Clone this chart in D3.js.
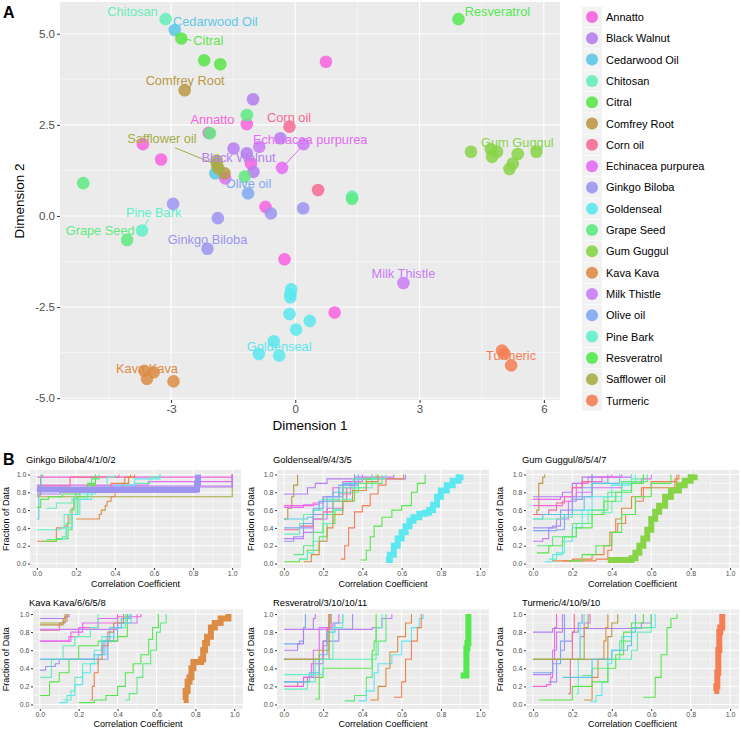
<!DOCTYPE html>
<html><head><meta charset="utf-8">
<script src="https://cdn.jsdelivr.net/npm/d3@7"></script>
<style>body{margin:0;background:#fff} text{font-family:"Liberation Sans",Arial,Helvetica,sans-serif}</style>
</head><body><svg id="c" width="741" height="730"></svg>
<script>
// ---------- shared categories ----------
const herbs = ["Annatto","Black Walnut","Cedarwood Oil","Chitosan","Citral","Comfrey Root","Corn oil","Echinacea purpurea","Ginkgo Biloba","Goldenseal","Grape Seed","Gum Guggul","Kava Kava","Milk Thistle","Olive oil","Pine Bark","Resveratrol","Safflower oil","Turmeric"];
const herbColors = ["#F863DF","#B57EF0","#5CC8E6","#66EDB8","#5BE548","#BA9845","#F66A93","#E46CF5","#9B94F0","#5BE8EE","#5EEA80","#88D448","#DD8C45","#C97CF7","#7FA8F2","#62F0CC","#55E84F","#A8AC45","#F47F55"];

// ---------- panel A: MDS points ----------
const mdsHerb = ["Annatto","Annatto","Annatto","Annatto","Annatto","Annatto","Annatto","Annatto","Annatto",
 "Echinacea purpurea","Echinacea purpurea","Corn oil","Corn oil",
 "Black Walnut","Black Walnut","Black Walnut","Black Walnut","Black Walnut",
 "Ginkgo Biloba","Ginkgo Biloba","Ginkgo Biloba","Ginkgo Biloba","Ginkgo Biloba",
 "Milk Thistle","Milk Thistle","Milk Thistle",
 "Cedarwood Oil","Cedarwood Oil","Chitosan","Chitosan",
 "Citral","Citral","Citral","Comfrey Root","Comfrey Root",
 "Grape Seed","Grape Seed","Grape Seed","Grape Seed","Grape Seed","Grape Seed",
 "Gum Guggul","Gum Guggul","Gum Guggul","Gum Guggul","Gum Guggul","Gum Guggul","Gum Guggul","Gum Guggul",
 "Kava Kava","Kava Kava","Kava Kava","Kava Kava",
 "Olive oil","Pine Bark","Resveratrol","Safflower oil","Safflower oil","Safflower oil",
 "Turmeric","Turmeric","Turmeric",
 "Goldenseal","Goldenseal","Goldenseal","Goldenseal","Goldenseal","Goldenseal","Goldenseal","Goldenseal","Goldenseal"];
const mdsX = [0.74,-1.17,-2.09,-3.68,-3.24,-1.07,-0.72,-0.26,0.95,
 -0.32,-1.69,-0.14,0.55,
 -1.02,-1.49,-1.17,-1.01,-0.36,
 -2.95,-1.87,-2.12,0.19,-0.59,
 2.61,-0.87,0.20,
 -2.91,-1.93,-3.13,1.37,
 -2.75,-2.20,-1.81,-2.67,-1.71,
 -4.06,-5.12,-1.17,-1.22,1.37,-2.06,
 4.24,4.72,4.87,4.75,5.37,5.25,5.17,5.82,
 -3.64,-3.42,-3.58,-2.94,
 -1.14,-3.70,3.94,-1.89,-1.90,-1.86,
 4.99,5.05,5.21,
 -0.10,-0.12,-0.12,-0.14,0.35,0.02,-0.52,-0.88,-0.39];
const mdsY = [4.23,2.52,2.28,1.97,1.55,1.44,0.25,-1.19,-2.65,
 1.32,1.03,2.45,0.71,
 3.20,1.85,1.72,1.21,2.13,
 0.33,-0.06,-0.90,0.21,0.07,
 -1.84,1.90,1.97,
 5.10,1.17,5.40,0.53,
 4.87,4.27,4.16,3.45,1.17,
 -0.66,0.90,2.77,1.08,0.47,2.27,
 1.76,1.83,1.76,1.62,1.70,1.44,1.29,1.76,
 -4.25,-4.29,-4.47,-4.54,
 0.62,-0.40,5.40,1.40,1.52,1.30,
 -3.69,-3.78,-4.10,
 -2.01,-2.15,-2.23,-2.69,-2.88,-3.12,-3.44,-3.79,-3.83];
// label positions (data units), one per herb, same order as herbs
const labelX = [-2.00,-1.37,-1.93,-3.93,-2.10,-2.66,-0.15,0.36,-2.12,-0.39,-4.71,5.36,-3.58,2.61,-1.13,-3.42,4.88,-3.22,5.21];
const labelY = [2.63,1.61,5.34,5.62,4.82,3.70,2.69,2.10,-0.64,-3.58,-0.40,2.00,-4.20,-1.57,0.90,0.10,5.62,2.13,-3.84];
// repel segments
const segHerb = ["Citral","Safflower oil","Echinacea purpurea","Pine Bark"];
const segX1 = [-2.75,-2.90,-0.32,-3.54];
const segY1 = [4.87,1.87,1.32,-0.09];
const segX2 = [-2.51,-1.89,0.18,-3.70];
const segY2 = [4.82,1.40,1.93,-0.38];
const xTicksA = [-3,0,3,6];
const yTicksA = [-5,-2.5,0,2.5,5];

// ---------- panel B: ECDF step curves [x, F(x)] ----------
const ecdfGinkgo = [
 {h:"Annatto",p:[[0,0.97],[1.0,1.0]]},
 {h:"Echinacea purpurea",p:[[0,0.88],[0.57,0.92],[1.0,1.0]]},
 {h:"Safflower oil",p:[[0,0.75],[1.0,1.0]]},
 {h:"Milk Thistle",p:[[0.28,0.87],[1.0,1.0]]},
 {h:"Corn oil",p:[[0,0.87],[0.17,0.97],[0.42,1.0]]},
 {h:"Comfrey Root",p:[[0,0.77],[0.02,0.98],[0.03,1.0]]},
 {h:"Cedarwood Oil",p:[[0,0.5],[0.01,0.87],[0.02,1.0]]},
 {h:"Turmeric",p:[[0,0.25],[0.1,0.4],[0.14,0.42],[0.16,0.55],[0.18,0.62],[0.19,0.72],[0.2,0.78],[0.22,0.85],[0.38,0.9],[0.45,0.97],[0.48,1.0]]},
 {h:"Kava Kava",p:[[0.2,0.5],[0.32,0.55],[0.33,0.6],[0.35,0.65],[0.36,0.7],[0.38,0.75],[0.4,0.85],[0.44,0.9],[0.47,0.97],[0.5,1.0]]},
 {h:"Grape Seed",p:[[0.05,0.27],[0.13,0.3],[0.15,0.45],[0.17,0.6],[0.19,0.75],[0.22,0.85],[0.28,0.95],[0.32,1.0]]},
 {h:"Citral",p:[[0.03,0.25],[0.1,0.28],[0.16,0.38],[0.18,0.55],[0.21,0.75],[0.26,0.88],[0.3,1.0]]},
 {h:"Resveratrol",p:[[0,0.63],[0.02,0.72],[0.06,0.75],[0.13,0.78],[0.2,0.84],[0.26,0.9],[0.3,1.0]]},
 {h:"Chitosan",p:[[0.05,0.62],[0.1,0.68],[0.18,0.72],[0.28,0.8],[0.42,0.83],[0.5,0.9],[0.58,0.97],[0.63,1.0]]},
 {h:"Pine Bark",p:[[0,0.38],[0.12,0.4],[0.14,0.55],[0.2,0.78],[0.3,0.85],[0.36,0.97],[0.4,1.0]]},
 {h:"Goldenseal",p:[[0.12,0.28],[0.15,0.4],[0.18,0.55],[0.22,0.72],[0.26,0.8],[0.4,0.88],[0.5,0.95],[0.63,1.0]]},
 {h:"Black Walnut",p:[[0,0.78],[0.12,0.8],[0.82,0.86],[1.0,1.0]]},
 {h:"Ginkgo Biloba",p:[[0,0.83],[0.82,0.9],[0.825,1.0]]}
];
const ecdfGoldenseal = [
 {h:"Comfrey Root",p:[[0,0.5],[0.02,0.62],[0.04,0.75],[0.05,0.88],[0.07,1.0]]},
 {h:"Black Walnut",p:[[0,0.78],[0.12,0.85],[0.16,0.9],[0.22,0.95],[0.36,1.0]]},
 {h:"Annatto",p:[[0,0.65],[0.15,0.68],[0.2,0.75],[0.25,0.85],[0.3,0.92],[0.4,1.0]]},
 {h:"Echinacea purpurea",p:[[0,0.63],[0.1,0.66],[0.18,0.7],[0.28,0.78],[0.34,0.9],[0.38,1.0]]},
 {h:"Corn oil",p:[[0,0.38],[0.08,0.42],[0.15,0.5],[0.2,0.58],[0.25,0.7],[0.32,0.85],[0.36,0.95],[0.45,1.0]]},
 {h:"Ginkgo Biloba",p:[[0,0.25],[0.05,0.3],[0.1,0.4],[0.15,0.55],[0.22,0.75],[0.3,0.88],[0.38,0.95],[0.62,1.0]]},
 {h:"Milk Thistle",p:[[0,0.28],[0.1,0.35],[0.15,0.5],[0.22,0.62],[0.3,0.85],[0.36,0.97],[0.56,1.0]]},
 {h:"Cedarwood Oil",p:[[0,0.5],[0.12,0.52],[0.15,0.6],[0.18,0.7],[0.25,0.8],[0.3,0.9],[0.38,1.0]]},
 {h:"Chitosan",p:[[0,0.33],[0.08,0.45],[0.1,0.55],[0.15,0.6],[0.2,0.72],[0.28,0.85],[0.35,0.95],[0.45,1.0]]},
 {h:"Citral",p:[[0,0.02],[0.08,0.05],[0.12,0.15],[0.18,0.3],[0.22,0.45],[0.26,0.6],[0.3,0.7],[0.36,0.85],[0.42,0.95],[0.47,1.0]]},
 {h:"Pine Bark",p:[[0.08,0.05],[0.12,0.12],[0.15,0.25],[0.2,0.45],[0.25,0.6],[0.3,0.72],[0.35,0.85],[0.45,0.95],[0.52,1.0]]},
 {h:"Kava Kava",p:[[0.1,0.02],[0.14,0.1],[0.18,0.25],[0.22,0.4],[0.25,0.55],[0.3,0.7],[0.35,0.82],[0.42,0.92],[0.48,1.0]]},
 {h:"Turmeric",p:[[0.29,0.05],[0.31,0.2],[0.33,0.4],[0.36,0.58],[0.4,0.65],[0.44,0.78],[0.48,0.88],[0.52,0.95],[0.61,1.0]]},
 {h:"Resveratrol",p:[[0.39,0.04],[0.42,0.15],[0.44,0.3],[0.46,0.42],[0.5,0.52],[0.55,0.6],[0.6,0.65],[0.65,0.8],[0.68,0.9],[0.72,1.0]]},
 {h:"Grape Seed",p:[[0.05,0.1],[0.1,0.2],[0.15,0.35],[0.2,0.55],[0.25,0.7],[0.3,0.8],[0.38,0.9],[0.5,1.0]]},
 {h:"Olive oil",p:[[0,0.4],[0.1,0.45],[0.15,0.62],[0.2,0.75],[0.28,0.88],[0.36,1.0]]},
 {h:"Goldenseal",p:[[0.52,0.04],[0.54,0.1],[0.56,0.2],[0.58,0.28],[0.6,0.35],[0.62,0.42],[0.64,0.48],[0.66,0.52],[0.69,0.56],[0.72,0.57],[0.74,0.6],[0.76,0.66],[0.78,0.75],[0.8,0.82],[0.83,0.88],[0.86,0.93],[0.89,0.97],[0.9,1.0]]}
];
const ecdfGumGuggul = [
 {h:"Comfrey Root",p:[[0,0.55],[0.02,0.6],[0.03,0.9],[0.05,0.97],[0.06,1.0]]},
 {h:"Black Walnut",p:[[0,0.75],[0.15,0.8],[0.2,0.9],[0.25,0.97],[0.4,1.0]]},
 {h:"Milk Thistle",p:[[0,0.25],[0.05,0.28],[0.08,0.4],[0.12,0.5],[0.18,0.7],[0.22,0.9],[0.28,0.97],[0.5,1.0]]},
 {h:"Annatto",p:[[0,0.65],[0.15,0.7],[0.2,0.85],[0.25,0.92],[0.35,0.97],[0.45,1.0]]},
 {h:"Corn oil",p:[[0,0.55],[0.08,0.6],[0.12,0.68],[0.16,0.75],[0.2,0.85],[0.25,0.92],[0.3,1.0]]},
 {h:"Echinacea purpurea",p:[[0,0.72],[0.14,0.75],[0.22,0.8],[0.3,0.85],[0.45,0.9],[0.55,0.95],[0.6,1.0]]},
 {h:"Ginkgo Biloba",p:[[0,0.4],[0.1,0.42],[0.14,0.6],[0.2,0.75],[0.3,0.9],[0.38,1.0]]},
 {h:"Olive oil",p:[[0,0.37],[0.12,0.38],[0.16,0.55],[0.2,0.72],[0.25,0.85],[0.3,1.0]]},
 {h:"Cedarwood Oil",p:[[0,0.5],[0.05,0.55],[0.2,0.6],[0.26,0.75],[0.3,0.9],[0.44,1.0]]},
 {h:"Goldenseal",p:[[0.06,0.02],[0.1,0.1],[0.15,0.25],[0.2,0.4],[0.25,0.6],[0.3,0.75],[0.4,0.88],[0.5,1.0]]},
 {h:"Pine Bark",p:[[0.08,0.05],[0.12,0.12],[0.16,0.3],[0.22,0.45],[0.28,0.6],[0.36,0.75],[0.45,0.9],[0.52,1.0]]},
 {h:"Chitosan",p:[[0,0.5],[0.15,0.52],[0.2,0.55],[0.35,0.57],[0.4,0.7],[0.45,0.82],[0.5,0.95],[0.56,1.0]]},
 {h:"Kava Kava",p:[[0.1,0.03],[0.2,0.05],[0.3,0.1],[0.36,0.2],[0.39,0.35],[0.42,0.5],[0.45,0.62],[0.5,0.75],[0.55,0.85],[0.72,0.95],[0.74,1.0]]},
 {h:"Turmeric",p:[[0.15,0.03],[0.32,0.05],[0.38,0.15],[0.4,0.35],[0.43,0.45],[0.47,0.55],[0.52,0.7],[0.56,0.85],[0.6,0.92],[0.73,1.0]]},
 {h:"Citral",p:[[0.02,0.12],[0.08,0.2],[0.15,0.3],[0.22,0.4],[0.3,0.55],[0.36,0.7],[0.42,0.8],[0.5,0.9],[0.56,1.0]]},
 {h:"Resveratrol",p:[[0.18,0.03],[0.25,0.1],[0.32,0.2],[0.4,0.35],[0.45,0.55],[0.52,0.75],[0.6,0.9],[0.7,1.0]]},
 {h:"Grape Seed",p:[[0.02,0.2],[0.1,0.3],[0.2,0.45],[0.3,0.6],[0.38,0.8],[0.45,0.92],[0.58,1.0]]},
 {h:"Gum Guggul",p:[[0.38,0.04],[0.5,0.06],[0.52,0.12],[0.54,0.2],[0.56,0.28],[0.58,0.38],[0.6,0.5],[0.62,0.58],[0.64,0.65],[0.67,0.75],[0.7,0.82],[0.74,0.88],[0.77,0.93],[0.8,0.97],[0.82,1.0]]}
];
const ecdfKavaKava = [
 {h:"Ginkgo Biloba",p:[[0,0.38],[0.03,0.42],[0.08,0.45],[0.1,0.5],[0.3,0.55],[0.33,0.7],[0.38,0.85],[0.42,0.95],[0.47,1.0]]},
 {h:"Olive oil",p:[[0,0.5],[0.3,0.5],[0.35,0.7],[0.4,0.9],[0.45,1.0]]},
 {h:"Black Walnut",p:[[0,0.95],[0.13,0.97],[0.15,1.0]]},
 {h:"Corn oil",p:[[0,0.82],[0.1,0.9],[0.13,0.97],[0.14,1.0]]},
 {h:"Comfrey Root",p:[[0,0.88],[0.1,0.88],[0.12,0.95],[0.13,1.0]]},
 {h:"Annatto",p:[[0,0.7],[0.15,0.75],[0.2,0.85],[0.3,0.9],[0.4,0.97],[0.52,1.0]]},
 {h:"Echinacea purpurea",p:[[0,0.7],[0.16,0.8],[0.22,0.9],[0.3,0.95],[0.4,1.0]]},
 {h:"Milk Thistle",p:[[0,0.83],[0.3,0.83],[0.4,0.9],[0.5,1.0]]},
 {h:"Chitosan",p:[[0,0.3],[0.06,0.5],[0.12,0.65],[0.18,0.75],[0.26,0.85],[0.3,1.0]]},
 {h:"Citral",p:[[0,0.1],[0.05,0.25],[0.1,0.35],[0.15,0.5],[0.2,0.65],[0.3,0.7],[0.4,0.75],[0.45,1.0]]},
 {h:"Pine Bark",p:[[0.12,0.05],[0.16,0.15],[0.18,0.3],[0.22,0.45],[0.28,0.6],[0.32,0.75],[0.38,0.85],[0.44,1.0]]},
 {h:"Goldenseal",p:[[0.1,0.02],[0.14,0.1],[0.18,0.22],[0.22,0.35],[0.26,0.45],[0.3,0.55],[0.34,0.75],[0.38,0.9],[0.47,1.0]]},
 {h:"Turmeric",p:[[0.26,0.05],[0.27,0.2],[0.28,0.35],[0.3,0.5],[0.32,0.65],[0.35,0.8],[0.38,0.9],[0.43,1.0]]},
 {h:"Cedarwood Oil",p:[[0,0.5],[0.28,0.55],[0.32,0.7],[0.36,0.85],[0.42,0.95],[0.46,1.0]]},
 {h:"Resveratrol",p:[[0.2,0.02],[0.28,0.05],[0.34,0.1],[0.4,0.2],[0.44,0.35],[0.48,0.45],[0.52,0.55],[0.56,0.72],[0.58,0.85],[0.61,1.0]]},
 {h:"Grape Seed",p:[[0.44,0.05],[0.46,0.12],[0.5,0.3],[0.53,0.45],[0.57,0.6],[0.6,0.8],[0.62,0.9],[0.65,1.0]]},
 {h:"Safflower oil",p:[[0,0.9],[0.12,0.92],[0.14,1.0]]},
 {h:"Kava Kava",p:[[0.74,0.05],[0.75,0.15],[0.76,0.25],[0.77,0.3],[0.78,0.4],[0.79,0.47],[0.83,0.5],[0.84,0.6],[0.85,0.68],[0.86,0.75],[0.88,0.85],[0.9,0.9],[0.93,0.95],[0.97,1.0]]}
];
const ecdfResveratrol = [
 {h:"Olive oil",p:[[0,0.67],[0.08,0.7],[0.1,0.85],[0.11,1.0]]},
 {h:"Black Walnut",p:[[0,0.6],[0.07,0.67],[0.1,0.83],[0.15,0.95],[0.16,1.0]]},
 {h:"Echinacea purpurea",p:[[0,0.5],[0.12,0.5],[0.15,0.6],[0.18,0.85],[0.25,0.9],[0.28,1.0]]},
 {h:"Corn oil",p:[[0,0.2],[0.07,0.25],[0.12,0.3],[0.18,0.5],[0.2,0.7],[0.22,0.85],[0.23,1.0]]},
 {h:"Milk Thistle",p:[[0,0.83],[0.3,0.83],[0.45,0.85],[0.5,0.95],[0.55,1.0]]},
 {h:"Ginkgo Biloba",p:[[0,0.25],[0.1,0.3],[0.15,0.5],[0.2,0.7],[0.28,0.83],[0.35,1.0]]},
 {h:"Comfrey Root",p:[[0,0.5],[0.22,0.5],[0.23,1.0]]},
 {h:"Annatto",p:[[0.01,0.2],[0.1,0.3],[0.14,0.45],[0.2,0.65],[0.22,0.85],[0.24,1.0]]},
 {h:"Chitosan",p:[[0,0.17],[0.12,0.25],[0.16,0.5],[0.45,0.5],[0.47,0.85],[0.5,1.0]]},
 {h:"Cedarwood Oil",p:[[0,0.25],[0.13,0.35],[0.18,0.55],[0.22,0.8],[0.26,0.9],[0.3,1.0]]},
 {h:"Citral",p:[[0.16,0.06],[0.18,0.3],[0.2,0.4],[0.44,0.4],[0.45,0.6],[0.46,0.7],[0.47,1.0]]},
 {h:"Grape Seed",p:[[0.31,0.04],[0.36,0.1],[0.42,0.3],[0.45,0.55],[0.48,0.7],[0.52,1.0]]},
 {h:"Goldenseal",p:[[0.38,0.04],[0.42,0.15],[0.46,0.35],[0.48,0.45],[0.55,0.55],[0.6,0.7],[0.65,0.85],[0.69,0.95],[0.71,1.0]]},
 {h:"Kava Kava",p:[[0.44,0.05],[0.48,0.2],[0.52,0.4],[0.54,0.58],[0.58,0.75],[0.62,0.9],[0.65,1.0]]},
 {h:"Turmeric",p:[[0.56,0.08],[0.6,0.25],[0.62,0.5],[0.65,0.7],[0.68,0.85],[0.7,1.0]]},
 {h:"Pine Bark",p:[[0,0.33],[0.2,0.5],[0.25,0.85],[0.3,1.0]]},
 {h:"Safflower oil",p:[[0,0.5],[0.12,0.5],[0.18,0.6],[0.23,0.9],[0.24,1.0]]},
 {h:"Resveratrol",p:[[0.9,0.32],[0.92,0.32],[0.93,0.62],[0.935,0.68],[0.94,1.0]]}
];
const ecdfTurmeric = [
 {h:"Annatto",p:[[0,0.2],[0.07,0.22],[0.09,0.3],[0.1,0.5],[0.11,0.85],[0.12,1.0]]},
 {h:"Milk Thistle",p:[[0,0.33],[0.09,0.35],[0.1,0.6],[0.12,0.8],[0.15,1.0]]},
 {h:"Black Walnut",p:[[0,0.8],[0.1,0.84],[0.5,0.84],[0.55,0.9],[0.6,1.0]]},
 {h:"Ginkgo Biloba",p:[[0.08,0.25],[0.12,0.5],[0.14,0.6],[0.16,0.7],[0.2,0.8],[0.23,0.9],[0.25,1.0]]},
 {h:"Corn oil",p:[[0.18,0.12],[0.19,0.5],[0.2,0.8],[0.21,1.0]]},
 {h:"Echinacea purpurea",p:[[0.22,0.5],[0.24,0.75],[0.26,0.9],[0.29,1.0]]},
 {h:"Chitosan",p:[[0,0.5],[0.42,0.5],[0.5,0.6],[0.53,0.8],[0.6,1.0]]},
 {h:"Goldenseal",p:[[0.29,0.03],[0.32,0.1],[0.35,0.25],[0.38,0.45],[0.4,0.6],[0.45,0.75],[0.5,0.85],[0.62,1.0]]},
 {h:"Pine Bark",p:[[0.22,0.12],[0.23,0.5],[0.24,0.9],[0.26,1.0]]},
 {h:"Kava Kava",p:[[0.26,0.05],[0.3,0.3],[0.33,0.5],[0.36,0.7],[0.37,0.85],[0.38,1.0]]},
 {h:"Comfrey Root",p:[[0,0.5],[0.36,0.5],[0.38,0.75],[0.4,0.9],[0.43,1.0]]},
 {h:"Citral",p:[[0.03,0.05],[0.17,0.05],[0.2,0.2],[0.3,0.25],[0.38,0.4],[0.42,0.55],[0.46,0.8],[0.5,0.9],[0.56,1.0]]},
 {h:"Grape Seed",p:[[0.25,0.32],[0.3,0.4],[0.38,0.5],[0.44,0.7],[0.5,0.85],[0.6,1.0]]},
 {h:"Resveratrol",p:[[0.56,0.08],[0.61,0.08],[0.62,0.3],[0.65,0.55],[0.68,0.85],[0.7,0.95],[0.73,1.0]]},
 {h:"Safflower oil",p:[[0,0.5],[0.24,0.5],[0.26,0.85],[0.28,1.0]]},
 {h:"Olive oil",p:[[0,0.35],[0.1,0.45],[0.14,0.7],[0.16,1.0]]},
 {h:"Cedarwood Oil",p:[[0.15,0.3],[0.3,0.5],[0.4,0.6],[0.48,0.65],[0.5,0.8],[0.52,1.0]]},
 {h:"Turmeric",p:[[0.92,0.15],[0.93,0.2],[0.935,0.35],[0.94,0.6],[0.945,0.8],[0.95,0.85],[0.96,1.0]]}
];
const panelTitles = ["Ginkgo Biloba/4/1/0/2","Goldenseal/9/4/3/5","Gum Guggul/8/5/4/7","Kava Kava/6/6/5/8","Resveratrol/3/10/10/11","Turmeric/4/10/9/10"];
const panelFocus = ["Ginkgo Biloba","Goldenseal","Gum Guggul","Kava Kava","Resveratrol","Turmeric"];
const panelCurves = [ecdfGinkgo, ecdfGoldenseal, ecdfGumGuggul, ecdfKavaKava, ecdfResveratrol, ecdfTurmeric];
const ticksB = [0,0.2,0.4,0.6,0.8,1.0];

// ---------- drawing ----------
const svg = d3.select("#c");
const color = d3.scaleOrdinal().domain(herbs).range(herbColors);
const GRAY = "#EBEBEB";

// Panel A
const ax = d3.scaleLinear().domain([-5.68, 6.39]).range([60, 560]);
const ay = d3.scaleLinear().domain([-5.05, 5.87]).range([400, 2]);
const gA = svg.append("g");
gA.append("rect").attr("x",60).attr("y",2).attr("width",500).attr("height",398).attr("fill",GRAY);
const xMinorA = [-4.5,-1.5,1.5,4.5], yMinorA = [-3.75,-1.25,1.25,3.75];
gA.selectAll(".xmn").data(xMinorA).join("line").attr("x1",d=>ax(d)).attr("x2",d=>ax(d)).attr("y1",2).attr("y2",400).attr("stroke","#fff").attr("stroke-width",0.5);
gA.selectAll(".ymn").data(yMinorA).join("line").attr("y1",d=>ay(d)).attr("y2",d=>ay(d)).attr("x1",60).attr("x2",560).attr("stroke","#fff").attr("stroke-width",0.5);
gA.selectAll(".xmj").data(xTicksA).join("line").attr("x1",d=>ax(d)).attr("x2",d=>ax(d)).attr("y1",2).attr("y2",400).attr("stroke","#fff").attr("stroke-width",1.1);
gA.selectAll(".ymj").data(yTicksA).join("line").attr("y1",d=>ay(d)).attr("y2",d=>ay(d)).attr("x1",60).attr("x2",560).attr("stroke","#fff").attr("stroke-width",1.1);
// axes
const xAxA = d3.axisBottom(ax).tickValues(xTicksA).tickSize(3).tickPadding(2).tickFormat(d3.format("d"));
const yAxA = d3.axisLeft(ay).tickValues(yTicksA).tickSize(3).tickPadding(2).tickFormat(d3.format(".1f"));
function styleAxis(g, fs){ g.select(".domain").remove(); g.selectAll(".tick line").attr("stroke","#333"); g.selectAll(".tick text").attr("fill","#4D4D4D").attr("font-size",fs).attr("font-family","Liberation Sans, Arial, sans-serif"); }
gA.append("g").attr("transform","translate(0,400)").call(xAxA).call(g=>styleAxis(g,11.5));
gA.append("g").attr("transform","translate(60,0)").call(yAxA).call(g=>styleAxis(g,11.5));
gA.selectAll(".tick text").text(function(){ return d3.select(this).text().replace("−","-"); });
svg.append("text").attr("x",310).attr("y",430).attr("text-anchor","middle").attr("font-size",13.5).text("Dimension 1");
svg.append("text").attr("transform","translate(24,201) rotate(-90)").attr("text-anchor","middle").attr("font-size",13.5).text("Dimension 2");
svg.append("text").attr("x",3).attr("y",18).attr("font-size",16).attr("font-weight","bold").text("A");
// points
const pts = mdsX.map((x,i)=>({x, y:mdsY[i], h:mdsHerb[i]}));
gA.selectAll(".pt").data(pts).join("circle").attr("cx",d=>ax(d.x)).attr("cy",d=>ay(d.y)).attr("r",6.3).attr("fill",d=>color(d.h)).attr("fill-opacity",0.85);
// segments
gA.selectAll(".seg").data(segHerb).join("line").attr("x1",(d,i)=>ax(segX1[i])).attr("y1",(d,i)=>ay(segY1[i])).attr("x2",(d,i)=>ax(segX2[i])).attr("y2",(d,i)=>ay(segY2[i])).attr("stroke",d=>color(d)).attr("stroke-width",1);
// labels
gA.selectAll(".lab").data(herbs).join("text").attr("x",(d,i)=>ax(labelX[i])).attr("y",(d,i)=>ay(labelY[i])+4.4).attr("text-anchor","middle").attr("font-size",12.8).attr("fill",d=>color(d)).text(d=>d);

// legend
const lg = svg.append("g");
const ly = d3.scaleLinear().domain([0, herbs.length-1]).range([17, 400.5]);
herbs.forEach((h,i)=>{
  const cy = ly(i);
  lg.append("rect").attr("x",582).attr("y",cy-10.3).attr("width",20).attr("height",20.6).attr("fill","#F2F2F2");
  lg.append("circle").attr("cx",592).attr("cy",cy).attr("r",6).attr("fill",color(h)).attr("fill-opacity",0.9);
  lg.append("text").attr("x",606).attr("y",cy+4).attr("font-size",11).attr("fill","#000").text(h);
});

// Panel B
svg.append("text").attr("x",3).attr("y",465).attr("font-size",16).attr("font-weight","bold").text("B");
const boxes = [
 {l:30,r:241,t:470,b:568,tb:463,xl:9},
 {l:277,r:489,t:470,b:568,tb:463,xl:254},
 {l:526,r:739,t:470,b:568,tb:463,xl:503},
 {l:33,r:243,t:609.5,b:709,tb:606,xl:9},
 {l:277,r:489,t:609.5,b:709,tb:606,xl:254},
 {l:526,r:739,t:609.5,b:709,tb:606,xl:503}
];
const minorB = [0.1,0.3,0.5,0.7,0.9];
boxes.forEach((bx,k)=>{
  const g = svg.append("g");
  const x = d3.scaleLinear().domain([-0.035,1.045]).range([bx.l,bx.r]);
  const y = d3.scaleLinear().domain([-0.05,1.05]).range([bx.b,bx.t]);
  g.append("rect").attr("x",bx.l).attr("y",bx.t).attr("width",bx.r-bx.l).attr("height",bx.b-bx.t).attr("fill",GRAY);
  g.selectAll(".a").data(minorB).join("line").attr("x1",d=>x(d)).attr("x2",d=>x(d)).attr("y1",bx.t).attr("y2",bx.b).attr("stroke","#fff").attr("stroke-width",0.5);
  g.selectAll(".b").data(minorB).join("line").attr("y1",d=>y(d)).attr("y2",d=>y(d)).attr("x1",bx.l).attr("x2",bx.r).attr("stroke","#fff").attr("stroke-width",0.5);
  g.selectAll(".c").data(ticksB).join("line").attr("x1",d=>x(d)).attr("x2",d=>x(d)).attr("y1",bx.t).attr("y2",bx.b).attr("stroke","#fff").attr("stroke-width",1);
  g.selectAll(".d").data(ticksB).join("line").attr("y1",d=>y(d)).attr("y2",d=>y(d)).attr("x1",bx.l).attr("x2",bx.r).attr("stroke","#fff").attr("stroke-width",1);
  g.append("g").attr("transform",`translate(0,${bx.b})`).call(d3.axisBottom(x).tickValues(ticksB).tickSize(2).tickPadding(1.5).tickFormat(d3.format(".1f"))).call(gg=>styleAxis(gg,7));
  g.append("g").attr("transform",`translate(${bx.l},0)`).call(d3.axisLeft(y).tickValues(ticksB).tickSize(2).tickPadding(1.5).tickFormat(d3.format(".1f"))).call(gg=>styleAxis(gg,7));
  const line = d3.line().x(d=>x(d[0])).y(d=>y(d[1])).curve(d3.curveStepAfter);
  const curves = panelCurves[k];
  const focus = panelFocus[k];
  g.selectAll(".thin").data(curves.filter(c=>c.h!==focus)).join("path").attr("d",c=>line(c.p)).attr("fill","none").attr("stroke",c=>color(c.h)).attr("stroke-width",1.1);
  g.selectAll(".thick").data(curves.filter(c=>c.h===focus)).join("path").attr("d",c=>line(c.p)).attr("fill","none").attr("stroke",c=>color(c.h)).attr("stroke-width",6);
  g.append("text").attr("x",bx.l-4).attr("y",bx.tb).attr("font-size",9.4).attr("fill","#000").text(panelTitles[k]);
  g.append("text").attr("x",(bx.l+bx.r)/2).attr("y",bx.b+(k<3?18.5:18)).attr("text-anchor","middle").attr("font-size",9).text("Correlation Coefficient");
  g.append("text").attr("transform",`translate(${bx.xl},${(bx.t+bx.b)/2}) rotate(-90)`).attr("text-anchor","middle").attr("font-size",9).text("Fraction of Data");
});
</script></body></html>
